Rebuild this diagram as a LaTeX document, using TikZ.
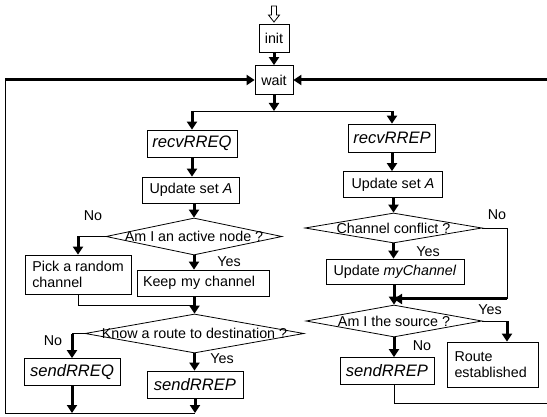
\documentclass[tikz,border=0pt]{standalone}
\usepackage{fontspec}
\setmainfont{Liberation Sans}
\usetikzlibrary{shapes.geometric,arrows.meta}
\begin{document}
\begin{tikzpicture}[x=1pt, y=-1pt, line width=0.8pt,
    every node/.style={font=\fontsize{14.3}{16}\selectfont},
    box/.style={draw, inner sep=0pt, minimum width=#1, minimum height=27pt},
    msg/.style={font=\fontsize{16.6}{18}\selectfont\itshape},
    ask/.style={diamond, draw, aspect=1, inner sep=0pt},
    go/.style={line width=3pt, -{Triangle[width=10pt,length=8pt]}}]
    \useasboundingbox (0,0) rectangle (547,417);
    \draw (271.5,6) -- (276.5,6) -- (276.5,15) -- (279.5,15) -- (274,22)
        -- (268.5,15) -- (271.5,15) -- cycle;
    \node[box=30pt, minimum height=28pt] (init) at (274,38) {init};
    \node[box=38pt, minimum height=29pt] (wait) at (274,80) {wait};
    \coordinate (split) at (274,111);
    \coordinate (loop-l) at (5,80);
    \coordinate (loop-r) at (547,80);
    \coordinate (base-l) at (5,413);
    \coordinate (exit-r) at (547,403);
    \coordinate (join) at (194,305);
    \coordinate (merge) at (394,299);
    \coordinate (side-r) at (507,299);
    % left branch
    \node[box=90pt, msg] (recv-req) at (192,143.5) {recvRREQ};
    \node[box=97pt, minimum height=26pt] (upd-a) at (191,190) {Update set \textit{A}};
    \node[ask, minimum width=176pt, minimum height=37pt] (ask-active) at (194,236.5)
        {\makebox[0pt]{Am I an active node ?}};
    \node[box=106pt, minimum height=39pt, align=left] (pick) at (78,274.5)
        {Pick a random\\channel};
    \node[box=132pt, minimum height=26pt, text width=120pt, align=left] (keep) at (203,283)
        {Keep my channel};
    \node[ask, minimum width=219pt, minimum height=39pt] (ask-route) at (194.5,333.5)
        {\makebox[0pt]{Know a route to destination ?}};
    \node[box=96pt, msg] (send-req) at (72,372) {sendRREQ};
    \node[box=96pt, msg] (send-rep) at (195,384.5) {sendRREP};
    % right branch
    \node[box=87pt, minimum height=28pt, msg] (recv-rep) at (392,138) {recvRREP};
    \node[box=99pt, minimum height=26pt] (upd-b) at (393,184.5) {Update set \textit{A}};
    \node[ask, minimum width=177pt, minimum height=30pt] (ask-conflict) at (393.5,228)
        {\makebox[0pt]{Channel conflict ?}};
    \node[box=138pt, minimum height=25pt] (upd-chan) at (395,271.5)
        {Update \textit{myChannel}};
    \node[ask, minimum width=176pt, minimum height=32pt] (ask-source) at (394,321)
        {\makebox[0pt]{Am I the source ?}};
    \node[box=94pt, msg] (send-rep-b) at (387,371) {sendRREP};
    \node[box=91pt, minimum height=45pt, text width=76pt, align=left] (done) at (492.5,364.5)
        {Route\\established};
    \foreach \i/\x/\y/\txt in {1/93/216/No, 2/229/262/Yes, 3/53/341/No, 4/222/359/Yes,
        5/497/215/No, 6/428/252/Yes, 7/490/310/Yes, 8/422/346/No}
        \node (lbl-\i) at (\x,\y) {\txt};
    % connectors
    \draw[go] (init.south) -- (wait.north);
    \draw[go] (wait.south) -- (split);
    \draw (recv-req.north |- split) -- (recv-rep.north |- split);
    \draw[go] (recv-req.north |- split) -- (recv-req.north);
    \draw[go] (recv-rep.north |- split) -- (recv-rep.north);
    \draw[go] (loop-l) -- (wait.west);
    \draw[go] (loop-r) -- (wait.east);
    \draw[go] (recv-req.south) -- (recv-req.south |- upd-a.north);
    \draw[go] (ask-active.north |- upd-a.south) -- (ask-active.north);
    \draw (ask-active.west) -- (ask-active.west -| pick.north);
    \draw[go] (ask-active.west -| pick.north) -- (pick.north);
    \draw[go] (ask-active.south) -- (ask-active.south |- keep.north);
    \draw (pick.south) |- (join);
    \draw[go] (ask-route.north |- keep.south) -- (ask-route.north);
    \draw (ask-route.west) -- (ask-route.west -| send-req.north);
    \draw[go] (ask-route.west -| send-req.north) -- (send-req.north);
    \draw[go] (ask-route.south) -- (ask-route.south |- send-rep.north);
    \draw[go] (send-req.south) -- (send-req.south |- base-l);
    \draw[go] (send-rep.south) -- (send-rep.south |- base-l);
    \draw (send-rep.south |- base-l) -- (base-l) -- (loop-l);
    \draw[go] (recv-rep.south) -- (recv-rep.south |- upd-b.north);
    \draw[go] (ask-conflict.north |- upd-b.south) -- (ask-conflict.north);
    \draw[go] (ask-conflict.south) -- (ask-conflict.south |- upd-chan.north);
    \draw (ask-conflict.east) -| (side-r);
    \draw[go] (side-r) -- (merge);
    \draw[go] (ask-source.north |- upd-chan.south) -- (ask-source.north);
    \draw (ask-source.east) -- (ask-source.east -| side-r);
    \draw[go] (ask-source.east -| side-r) -- (side-r |- done.north);
    \draw[go] (ask-source.south) -- (ask-source.south |- send-rep-b.north);
    \draw (ask-source.south |- send-rep-b.south) |- (exit-r);
\end{tikzpicture}
\end{document}
